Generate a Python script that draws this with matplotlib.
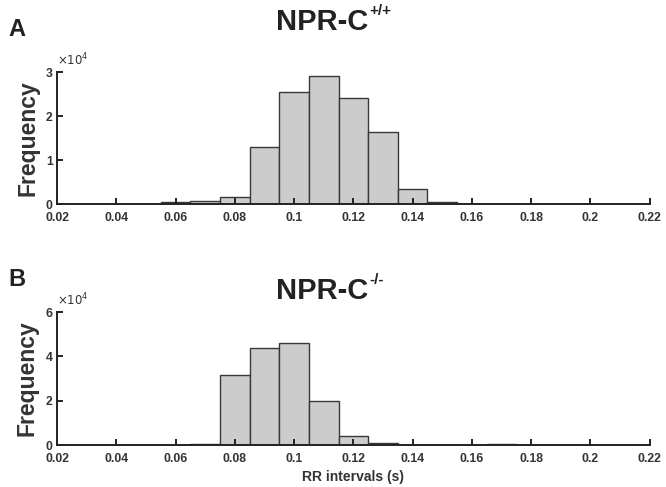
import matplotlib
matplotlib.use("Agg")
import matplotlib.pyplot as plt
from matplotlib.ticker import FuncFormatter
import numpy as np

plt.rcParams['font.family'] = ['Liberation Sans', 'DejaVu Sans']

# histogram bins, 0.01 s wide, centred on 0.06 ... 0.20
bin_centres = [0.06, 0.07, 0.08, 0.09, 0.10, 0.11, 0.12, 0.13, 0.14, 0.15, 0.16, 0.17, 0.18, 0.19, 0.20]
counts_wt = [400, 700, 1500, 12900, 25400, 29100, 24150, 16400, 3500, 500, 100, 60, 40, 20, 10]
counts_ko = [50, 300, 31600, 43600, 46100, 19700, 4200, 900, 150, 60, 60, 300, 100, 40, 20]

xticks = [0.02, 0.04, 0.06, 0.08, 0.1, 0.12, 0.14, 0.16, 0.18, 0.2, 0.22]
xtick_labels = ["0.02", "0.04", "0.06", "0.08", "0.1", "0.12", "0.14", "0.16", "0.18", "0.2", "0.22"]

fig = plt.figure(figsize=(6.66, 4.87), dpi=100)

def drawPanel(rect, counts, ymax, yticks, sup, letter, letter_y, title_y):
    ax = fig.add_axes(rect)
    ax.bar(bin_centres, counts, width=0.01, color="#cccccc", edgecolor="#383838", linewidth=1.0)
    ax.set_xlim(0.02, 0.22)
    ax.set_ylim(0, ymax)
    ax.set_xticks(xticks)
    ax.set_xticklabels(xtick_labels)
    ax.set_yticks(yticks)
    ax.yaxis.set_major_formatter(FuncFormatter(lambda v, p: f"{v/1e4:g}"))
    for s in ["top", "right"]:
        ax.spines[s].set_visible(False)
    for s in ["left", "bottom"]:
        ax.spines[s].set_linewidth(1.4)
        ax.spines[s].set_color("#222222")
    ax.tick_params(direction="in", length=4.5, width=1.4, color="#222222", labelsize=8.8)
    ax.tick_params(axis="x", pad=6)
    ax.tick_params(axis="y", pad=3)
    for lab in ax.get_xticklabels() + ax.get_yticklabels():
        lab.set_fontweight("bold")
        lab.set_color("#333333")
    ax.set_ylabel("Frequency", fontsize=16.5, fontweight="bold", color="#333333", labelpad=5)
    ax.text(0.0, 1.025, r"$\times10^4$", transform=ax.transAxes, fontsize=8.5, color="#333333",
            ha="left", va="bottom")
    t = fig.text(0.484, title_y, "NPR-C", fontsize=21, fontweight="bold", color="#222222",
                 ha="center", va="center")
    ax.annotate(sup, xy=(1, 1), xycoords=t, xytext=(0.5, 3), textcoords="offset points",
                fontsize=11, fontweight="bold", color="#222222", ha="left", va="top",
                annotation_clip=False)
    fig.text(0.012, letter_y, letter, fontsize=17, fontweight="bold", color="#222222",
             ha="left", va="center")
    return ax

drawPanel([0.0856, 0.581, 0.890, 0.271], counts_wt, 30000, [0, 10000, 20000, 30000],
          "+/+", "A", 0.94, 0.955)
axB = drawPanel([0.0856, 0.0862, 0.890, 0.273], counts_ko, 60000, [0, 20000, 40000, 60000],
                "-/-", "B", 0.426, 0.402)
axB.set_xlabel("RR intervals (s)", fontsize=10, fontweight="bold", color="#333333", labelpad=3)

plt.savefig("out.png", dpi=100)
plt.close(fig)
